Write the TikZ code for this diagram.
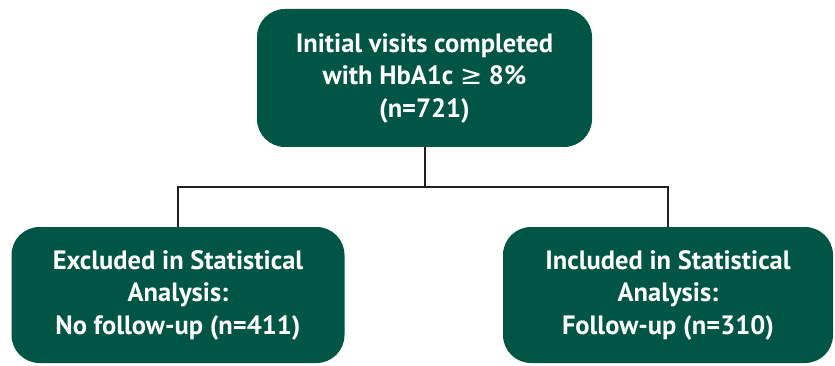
\documentclass[tikz,border=0pt]{standalone}
\usepackage{fontspec}
\setmainfont{PT Sans}
\newfontfamily\symfont{DejaVu Sans}
\usetikzlibrary{positioning}
\definecolor{flGreen}{HTML}{005544}
\definecolor{flLine}{HTML}{231F20}
\tikzset{
  flbox/.style={
    fill=flGreen, rounded corners=28pt, text=white, align=center,
    font=\fontsize{26.5}{32.5}\selectfont\bfseries, inner sep=0pt
  },
  topbox/.style={flbox, minimum width=335pt, minimum height=138pt},
  armbox/.style={flbox, minimum width=333pt, minimum height=136pt},
  fllink/.style={draw=flLine, line width=2pt}
}
\begin{document}
\begin{tikzpicture}[x=1pt,y=-1pt]
  \useasboundingbox (0,0) rectangle (835,366);
  \node[topbox] (visits) at (424.5,78) {Initial visits completed\\with HbA1c {\symfont\mdseries ≥} 8\%\\(n=721)};
  \node[armbox] (excluded) at (178,295) {Excluded in Statistical\\Analysis:\\No follow-up (n=411)};
  \node[armbox, minimum width=330pt] (included) at (668,295) {Included in Statistical\\Analysis:\\Follow-up (n=310)};
  % branch
  \coordinate (split) at (424.5,187);
  \draw[fllink] (visits.south) -- (split) -| (excluded.north);
  \draw[fllink] (split) -| (included.north);
\end{tikzpicture}
\end{document}
